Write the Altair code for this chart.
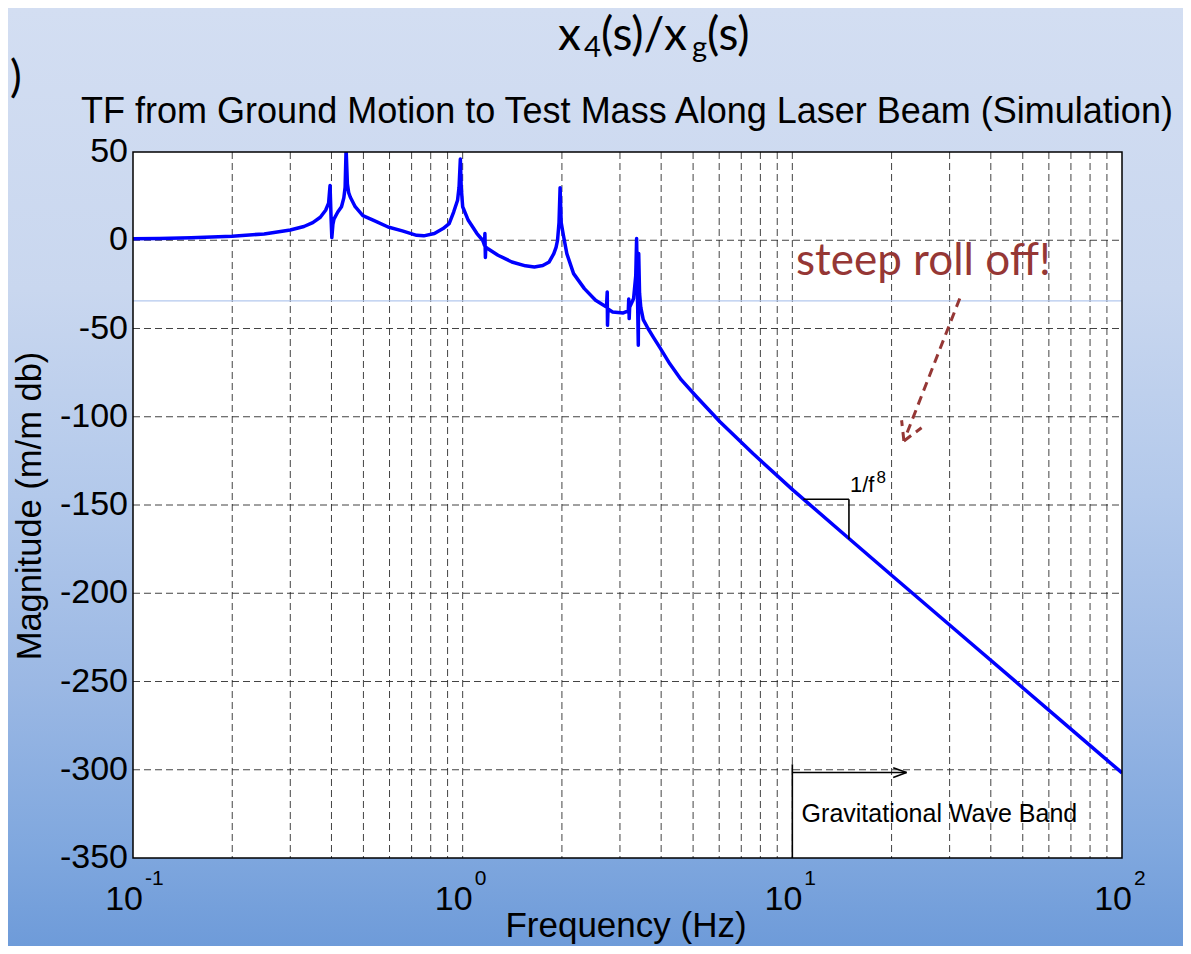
import altair as alt
import pandas as pd

# ---------------- data ----------------
freq_hz = [0.1, 0.12, 0.15, 0.2, 0.25, 0.3, 0.33, 0.351, 0.37, 0.384, 0.392, 0.396, 0.399, 0.401,
           0.404, 0.407, 0.418, 0.429, 0.436, 0.44, 0.443, 0.447, 0.451, 0.456, 0.472, 0.498, 0.537,
           0.594, 0.656, 0.725, 0.762, 0.821, 0.872, 0.91, 0.939, 0.965, 0.975, 0.984, 0.99, 1.0,
           1.04, 1.105, 1.15, 1.165, 1.168, 1.172, 1.175, 1.19, 1.28, 1.41, 1.55, 1.65, 1.75, 1.83,
           1.89, 1.92, 1.94, 1.96, 1.975, 1.99, 2.02, 2.07, 2.17, 2.34, 2.53, 2.73, 2.745, 2.75,
           2.76, 2.85, 3.07, 3.18, 3.19, 3.2, 3.21, 3.3, 3.35, 3.37, 3.39, 3.41, 3.42, 3.44, 3.47,
           3.53, 3.65, 3.79, 3.97, 4.25, 4.6, 5.13, 6.03, 7.61, 10.07, 14.85, 20, 30, 48, 70, 100]
mag_db = [0.8, 1.0, 1.4, 2.3, 3.6, 5.8, 7.8, 10.0, 13, 17, 21, 31, 12, 1.5,
          9, 12, 16, 19, 24, 30, 52, 32, 27, 24.5, 19, 14, 11.3,
          7.5, 5.3, 2.8, 2.5, 3.8, 6.6, 9.4, 16, 22.7, 30, 46, 30, 19,
          11.3, 3.8, 0, -3, 3.8, -9.8, -4, -4.7, -8.5, -12.3, -14.5, -15.1, -14.3, -12.3,
          -7.6, -4, 0, 10, 29.8, 10, 3, -7.6, -18.9, -27.4, -34, -37.8, -29.3, -48.2,
          -39, -40.6, -41.2, -40, -33.3, -44.4, -38, -33, -20, 1, -30, -59.5, -7.5, -30, -38,
          -45, -50, -55, -61, -70, -79, -88.8, -102.8, -121, -141.7, -169, -189.8, -218, -250.7, -277, -301.8]

y_tick_values = [50, 0, -50, -100, -150, -200, -250, -300, -350]
y_tick_labels = ["50", "0", "-50", "-100", "-150", "-200", "-250", "-300", "-350"]
x_decades = [0.1, 1, 10, 100]
x_exponents = ["-1", "0", "1", "2"]
grid_x = [0.2, 0.3, 0.4, 0.5, 0.6, 0.7, 0.8, 0.9, 1, 2, 3, 4, 5, 6, 7, 8, 9, 10,
          20, 30, 40, 50, 60, 70, 80, 90]
grid_y = [0, -50, -100, -150, -200, -250, -300]
stray_line_db = [-34.4]

# black annotation segments (f1, db1, f2, db2)
slope_f1 = [10.8, 14.85, 10, 10, 22.2, 22.2]
slope_db1 = [-146.7, -146.7, -296.9, -301.6, -301.6, -301.6]
slope_f2 = [14.85, 14.85, 10, 22.2, 20.23, 20.23]
slope_db2 = [-146.7, -169.4, -350, -301.6, -298.8, -304.4]

# red dashed arrow segments
arrow_f1 = [32.2, 21.8, 21.8]
arrow_db1 = [-33.0, -113.7, -113.7]
arrow_f2 = [21.8, 21.45, 24.66]
arrow_db2 = [-113.7, -102.0, -106.2]

# ---------------- layout ----------------
W, H = 989, 706
PAD = {"left": 125, "top": 144, "right": 61, "bottom": 88}
xs = alt.Scale(type="log", domain=[0.1, 100], nice=False)
ys = alt.Scale(domain=[-350, 50], nice=False, zero=False)
ARIAL = "Liberation Sans"
CAL = "Lato"
one = pd.DataFrame({"k": [0]})


def txt(t, x, y, size, font=ARIAL, align="left", baseline="alphabetic", angle=0, color="black"):
    kw = dict(text=t, fontSize=size, font=font, align=align, baseline=baseline, color=color)
    if angle:
        kw["angle"] = angle
    return alt.Chart(one).mark_text(**kw).encode(x=alt.value(x), y=alt.value(y))


grad = alt.Gradient(
    gradient="linear",
    stops=[alt.GradientStop(color="#D3DEF2", offset=0),
           alt.GradientStop(color="#C9D7EF", offset=0.3),
           alt.GradientStop(color="#B3C9EB", offset=0.52),
           alt.GradientStop(color="#9BB8E4", offset=0.72),
           alt.GradientStop(color="#7FA7DE", offset=0.9),
           alt.GradientStop(color="#6E9BD9", offset=1)],
    x1=0, x2=0, y1=0, y2=1)

bg = alt.Chart(one).mark_rect(fill=grad).encode(
    x=alt.value(-PAD["left"]), x2=alt.value(W + PAD["right"]),
    y=alt.value(-PAD["top"]), y2=alt.value(H + PAD["bottom"]))
plot_bg = alt.Chart(one).mark_rect(fill="white").encode(
    x=alt.value(0), x2=alt.value(W), y=alt.value(0), y2=alt.value(H))

gx = alt.Chart(pd.DataFrame({"f": grid_x})).mark_rule(
    color="#222222", strokeWidth=1, strokeDash=[7, 4], opacity=0.85).encode(
    x=alt.X("f:Q", scale=xs, axis=None), y=alt.value(0), y2=alt.value(H))
gy = alt.Chart(pd.DataFrame({"db": grid_y})).mark_rule(
    color="#222222", strokeWidth=1, strokeDash=[7, 4], opacity=0.85).encode(
    y=alt.Y("db:Q", scale=ys, axis=None), x=alt.value(0), x2=alt.value(W))
stray = alt.Chart(pd.DataFrame({"db": stray_line_db})).mark_rule(
    color="#B3C8EE", strokeWidth=1.2).encode(
    y=alt.Y("db:Q", scale=ys, axis=None), x=alt.value(0), x2=alt.value(W))

curve_df = pd.DataFrame({"f": freq_hz, "db": mag_db, "i": range(len(freq_hz))})
curve = alt.Chart(curve_df).mark_line(color="#0000FF", strokeWidth=3.5, clip=True,
                                      strokeJoin="round").encode(
    x=alt.X("f:Q", scale=xs, axis=None), y=alt.Y("db:Q", scale=ys, axis=None),
    order="i:Q")

seg_df = pd.DataFrame({"f1": slope_f1, "d1": slope_db1, "f2": slope_f2, "d2": slope_db2})
segs = alt.Chart(seg_df).mark_rule(color="black", strokeWidth=1.6).encode(
    x=alt.X("f1:Q", scale=xs, axis=None), x2="f2:Q",
    y=alt.Y("d1:Q", scale=ys, axis=None), y2="d2:Q")

arr_df = pd.DataFrame({"f1": arrow_f1, "d1": arrow_db1, "f2": arrow_f2, "d2": arrow_db2})
arrow = alt.Chart(arr_df).mark_rule(color="#953735", strokeWidth=3, strokeDash=[9, 6]).encode(
    x=alt.X("f1:Q", scale=xs, axis=None), x2="f2:Q",
    y=alt.Y("d1:Q", scale=ys, axis=None), y2="d2:Q")


def dtxt(t, f, db, size, font=ARIAL, color="black"):
    d = pd.DataFrame({"f": [f], "db": [db], "t": [t]})
    return alt.Chart(d).mark_text(fontSize=size, font=font, align="left",
                                  baseline="alphabetic", color=color).encode(
        x=alt.X("f:Q", scale=xs, axis=None), y=alt.Y("db:Q", scale=ys, axis=None), text="t:N")


t_roll = dtxt("steep roll off!", 10.26, -19.8, 44, font=CAL, color="#953735")
t_f = dtxt("1/f", 14.95, -142.6, 22)
t_8 = dtxt("8", 18.0, -137.5, 17)
t_gw = dtxt("Gravitational Wave Band", 10.67, -329.6, 25)

ylab = alt.Chart(pd.DataFrame({"v": y_tick_values, "t": y_tick_labels})).mark_text(
    fontSize=34, font=ARIAL, align="right", baseline="middle", dx=-5, color="black").encode(
    y=alt.Y("v:Q", scale=ys, axis=None), x=alt.value(0), text="t:N")
xdf = pd.DataFrame({"f": x_decades, "e": x_exponents})
xlab10 = alt.Chart(xdf).mark_text(fontSize=34, font=ARIAL, align="right",
                                  baseline="alphabetic", dx=10, color="black").encode(
    x=alt.X("f:Q", scale=xs, axis=None), y=alt.value(758), text=alt.value("10"))
xlabexp = alt.Chart(xdf).mark_text(fontSize=21, font=ARIAL, align="left",
                                   baseline="alphabetic", dx=12, color="black").encode(
    x=alt.X("f:Q", scale=xs, axis=None), y=alt.value(733), text="e:N")

t_sub = txt("TF from Ground Motion to Test Mass Along Laser Beam (Simulation)",
            494, -29, 36, align="center")
t_xt = txt("Frequency (Hz)", 493, 785, 35, align="center")
t_yt = txt("Magnitude (m/m db)", -92, 354, 34.5, align="center", angle=270)

# main slide title x4(s)/xg(s)
t_m1 = txt("x", 425, -102, 46, font=CAL)
t_m2 = txt("4", 451, -95, 29, font=CAL)
t_m3 = txt("(s)/x", 468, -102, 46, font=CAL)
t_m4 = txt("g", 559, -95, 29, font=CAL)
t_m5 = txt("(s)", 574, -102, 46, font=CAL)
t_paren = txt(")", -123, -60, 44, font=CAL, align="left")

frame = alt.Chart(one).mark_rect(filled=False, stroke="black", strokeWidth=1.5).encode(
    x=alt.value(0), x2=alt.value(W), y=alt.value(0), y2=alt.value(H))

chart = alt.layer(
    bg, plot_bg, gx, gy, stray, curve, segs, arrow,
    t_roll, t_f, t_8, t_gw, ylab, xlab10, xlabexp,
    t_sub, t_xt, t_yt, t_m1, t_m2, t_m3, t_m4, t_m5, t_paren, frame
).properties(
    width=W, height=H, padding=PAD, autosize=alt.AutoSizeParams(type="none")
).configure_view(stroke=None).configure(background="#BFD0EC")

chart.save("out.html", embed_options={"renderer": "svg", "actions": False})
